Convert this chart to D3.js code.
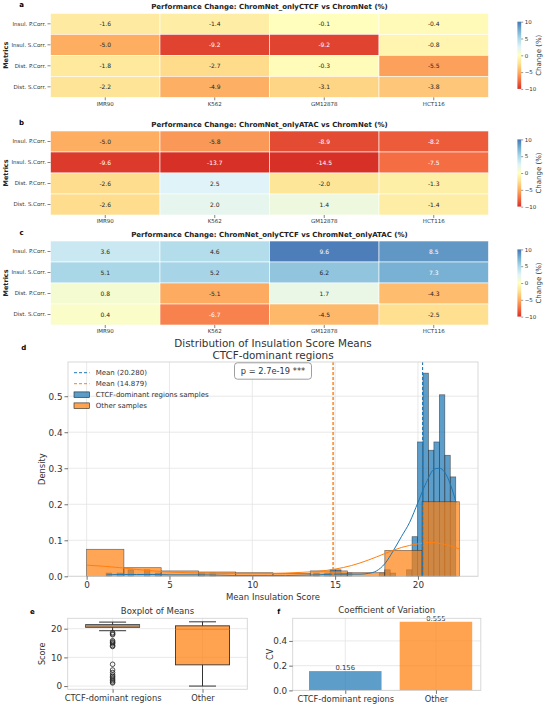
<!DOCTYPE html>
<html>
<head>
<meta charset="utf-8">
<script src="https://cdn.jsdelivr.net/npm/d3@7"></script>
<style>
  body { margin: 0; background: #fff; }
  svg { display: block; font-family: "DejaVu Sans", sans-serif; }
</style>
</head>
<body>
<div id="chart"></div>
<script>
// ---- heatmap data (rows = metrics, cols = cell lines) ----
const cellLines = ["IMR90", "K562", "GM12878", "HCT116"];
const metrics = ["Insul. P.Corr.", "Insul. S.Corr.", "Dist. P.Corr.", "Dist. S.Corr."];
const ctcfVsFull = [[-1.6, -1.4, -0.1, -0.4], [-5.0, -9.2, -9.2, -0.8], [-1.8, -2.7, -0.3, -5.5], [-2.2, -4.9, -3.1, -3.8]];
const atacVsFull = [[-5.0, -5.8, -8.9, -8.2], [-9.6, -13.7, -14.5, -7.5], [-2.6, 2.5, -2.0, -1.3], [-2.6, 2.0, 1.4, -1.4]];
const ctcfVsAtac = [[3.6, 4.6, 9.6, 8.5], [5.1, 5.2, 6.2, 7.3], [0.8, -5.1, 1.7, -4.3], [0.4, -6.7, -4.5, -2.5]];
const colorbarTicks = [-10, -5, 0, 5, 10];

// ---- histogram data ----
const blueBinStart = 1.18, blueBinWidth = 0.3297;
const blueBinIndex = [0, 2, 4, 7, 9, 17, 19, 38, 40, 41, 42, 43, 44, 50, 51, 52, 55, 56, 57, 58, 59, 60, 61, 62, 63];
const blueDensity = [0.009, 0.009, 0.018, 0.018, 0.009, 0.009, 0.009, 0.009, 0.009, 0.018, 0.018, 0.009, 0.009, 0.009, 0.018, 0.009, 0.018, 0.11, 0.373, 0.564, 0.35, 0.373, 0.504, 0.336, 0.276];
const orangeBinEdges = [0, 2.25, 4.5, 6.75, 9, 11.25, 13.5, 15.75, 18, 20.25, 22.5];
const orangeDensity = [0.075, 0.024, 0.015, 0.012, 0.010, 0.008, 0.015, 0.010, 0.072, 0.207];
const blueKdeX = [1.2, 2, 3, 4, 5, 6, 7, 8, 9, 10, 11, 12, 13, 14, 15, 16, 16.5, 17, 17.5, 18, 18.5, 19, 19.5, 20, 20.5, 21, 21.3, 21.6, 22, 22.3];
const blueKdeY = [0.004, 0.005, 0.005, 0.005, 0.004, 0.004, 0.004, 0.003, 0.002, 0.002, 0.002, 0.002, 0.003, 0.004, 0.006, 0.006, 0.006, 0.008, 0.015, 0.035, 0.07, 0.11, 0.15, 0.205, 0.26, 0.298, 0.30, 0.29, 0.25, 0.205];
const orangeKdeX = [0, 1, 2, 3, 4, 5, 6, 7, 8, 9, 10, 11, 12, 13, 14, 15, 16, 17, 18, 19, 20, 20.7, 21.5, 22.5];
const orangeKdeY = [0.031, 0.028, 0.024, 0.019, 0.015, 0.012, 0.010, 0.009, 0.008, 0.008, 0.008, 0.008, 0.009, 0.011, 0.014, 0.020, 0.030, 0.045, 0.063, 0.080, 0.090, 0.094, 0.090, 0.076];
const meanCtcf = 20.280, meanOther = 14.879;
const histXTicks = [0, 5, 10, 15, 20];
const histYTicks = [0, 0.1, 0.2, 0.3, 0.4, 0.5];

// ---- boxplot data ----
const groups = ["CTCF-dominant regions", "Other"];
const boxQ1 = [20.5, 7.4];
const boxMedian = [21.0, 19.8];
const boxQ3 = [21.4, 21.0];
const whiskerLow = [19.3, 0.0];
const whiskerHigh = [22.3, 22.4];
const ctcfOutliers = [18.6, 18.2, 17.9, 15.8, 15.4, 15.1, 14.7, 14.1, 13.8, 7.6, 5.6, 4.7, 3.9, 3.4, 2.9, 2.4, 1.9, 1.4, 1.1];
const boxYTicks = [0, 10, 20];

// ---- coefficient of variation ----
const cvValues = [0.156, 0.555];
const cvYTicks = [0, 0.2, 0.4];

const BLUE = "#1f77b4", ORANGE = "#ff7f0e";
const TXT = "#333";

const svg = d3.select("#chart").append("svg")
    .attr("width", 546)
    .attr("height", 707);

// diverging red-yellow-blue, -10 .. 10
const rdylbu = ["#d73027", "#f46d43", "#fdae61", "#fee090", "#ffffbf", "#e0f3f8", "#abd9e9", "#74add1", "#4575b4"];
const color = d3.scaleLinear()
    .domain(rdylbu.map((c, i) => -10 + i * 2.5))
    .range(rdylbu)
    .clamp(true);

function luminance(c) {
    const rgb = d3.rgb(c);
    const lin = v => { v /= 255; return v <= 0.03928 ? v / 12.92 : Math.pow((v + 0.055) / 1.055, 2.4); };
    return 0.2126 * lin(rgb.r) + 0.7152 * lin(rgb.g) + 0.0722 * lin(rgb.b);
}

// gradient for colorbars
const grad = svg.append("defs").append("linearGradient")
    .attr("id", "cbgrad")
    .attr("x1", 0).attr("y1", 1).attr("x2", 0).attr("y2", 0);
rdylbu.forEach((c, i) => {
    grad.append("stop").attr("offset", i / (rdylbu.length - 1)).attr("stop-color", c);
});

function heatmap(top, letter, title, values) {
    const left = 50.5, right = 488.5, h = 84;
    const g = svg.append("g");
    const x = d3.scaleBand().domain(cellLines).range([left, right]);
    const y = d3.scaleBand().domain(metrics).range([top, top + h]);

    const cells = metrics.flatMap((m, i) => cellLines.map((c, j) => ({ m, c, v: values[i][j] })));

    g.selectAll(".cell")
        .data(cells)
        .enter().append("rect")
        .attr("x", d => x(d.c))
        .attr("y", d => y(d.m))
        .attr("width", x.bandwidth())
        .attr("height", y.bandwidth())
        .attr("fill", d => color(d.v))
        .attr("stroke", "white")
        .attr("stroke-width", 0.6);

    g.selectAll(".annot")
        .data(cells)
        .enter().append("text")
        .attr("x", d => x(d.c) + x.bandwidth() / 2)
        .attr("y", d => y(d.m) + y.bandwidth() / 2)
        .attr("dy", "0.35em")
        .attr("text-anchor", "middle")
        .attr("font-size", "6px")
        .attr("fill", d => luminance(color(d.v)) > 0.408 ? "#262626" : "white")
        .text(d => d.v.toFixed(1));

    // y axis
    const ya = g.append("g")
        .attr("transform", `translate(${left},0)`)
        .call(d3.axisLeft(y).tickSize(3).tickPadding(1.5));
    ya.select(".domain").remove();
    ya.selectAll("line").attr("stroke", TXT).attr("stroke-width", 0.6);
    ya.selectAll("text").attr("font-size", "5.5px").attr("fill", TXT).attr("font-family", "DejaVu Sans");

    // x axis
    const xa = g.append("g")
        .attr("transform", `translate(0,${top + h})`)
        .call(d3.axisBottom(x).tickSize(3).tickPadding(1.5));
    xa.select(".domain").remove();
    xa.selectAll("line").attr("stroke", TXT).attr("stroke-width", 0.6);
    xa.selectAll("text").attr("font-size", "5.5px").attr("fill", TXT).attr("font-family", "DejaVu Sans");

    g.append("text")
        .attr("x", (left + right) / 2)
        .attr("y", top - 4)
        .attr("text-anchor", "middle")
        .attr("font-size", "7px")
        .attr("font-weight", "bold")
        .attr("fill", "#222")
        .text(title);

    g.append("text")
        .attr("x", 21.6)
        .attr("y", top - 6.5)
        .attr("text-anchor", "middle")
        .attr("font-size", "7px")
        .attr("font-weight", "bold")
        .text(letter);

    g.append("text")
        .attr("transform", `translate(7.5,${top + h / 2}) rotate(-90)`)
        .attr("text-anchor", "middle")
        .attr("font-size", "6.5px")
        .attr("font-weight", "bold")
        .attr("fill", "#222")
        .text("Metrics");

    // colorbar
    const cbTop = top + h * 0.1, cbBot = top + h * 0.9;
    g.append("rect")
        .attr("x", 517.4).attr("y", cbTop)
        .attr("width", 3.8).attr("height", cbBot - cbTop)
        .attr("fill", "url(#cbgrad)");
    const cb = d3.scaleLinear().domain([-10, 10]).range([cbBot, cbTop]);
    const ca = g.append("g")
        .attr("transform", `translate(521.2,0)`)
        .call(d3.axisRight(cb).tickValues(colorbarTicks).tickSize(2).tickPadding(1.5)
            .tickFormat(d => d < 0 ? "\u2212" + Math.abs(d) : d));
    ca.select(".domain").remove();
    ca.selectAll("line").attr("stroke", TXT).attr("stroke-width", 0.5);
    ca.selectAll("text").attr("font-size", "5.5px").attr("fill", TXT).attr("font-family", "DejaVu Sans");
    g.append("text")
        .attr("transform", `translate(538.5,${top + h / 2}) rotate(-90)`)
        .attr("text-anchor", "middle")
        .attr("dy", "0.35em")
        .attr("font-size", "7px")
        .attr("fill", TXT)
        .text("Change (%)");
}

heatmap(13.3, "a", "Performance Change: ChromNet_onlyCTCF vs ChromNet (%)", ctcfVsFull);
heatmap(131, "b", "Performance Change: ChromNet_onlyATAC vs ChromNet (%)", atacVsFull);
heatmap(241, "c", "Performance Change: ChromNet_onlyCTCF vs ChromNet_onlyATAC (%)", ctcfVsAtac);

// ---- shared helpers for the lower panels ----
function styleAxis(sel, size) {
    sel.select(".domain").remove();
    sel.selectAll("line").attr("stroke", TXT).attr("stroke-width", 0.7);
    sel.selectAll("text").attr("font-size", size).attr("fill", TXT).attr("font-family", "DejaVu Sans");
}
function frame(g, x0, x1, y0, y1) {
    g.append("rect")
        .attr("x", x0).attr("y", y0)
        .attr("width", x1 - x0).attr("height", y1 - y0)
        .attr("fill", "none")
        .attr("stroke", "#d4d4d4")
        .attr("stroke-width", 0.9);
}
function grid(g, xs, ys, x0, x1, y0, y1) {
    xs.forEach(v => g.append("line").attr("x1", v).attr("x2", v).attr("y1", y0).attr("y2", y1)
        .attr("stroke", "#e3e3e3").attr("stroke-width", 0.8));
    ys.forEach(v => g.append("line").attr("x1", x0).attr("x2", x1).attr("y1", v).attr("y2", v)
        .attr("stroke", "#e3e3e3").attr("stroke-width", 0.8));
}

// ---- panel d: histogram ----
{
    const L = 68, R = 478, T = 362, B = 576.3;
    const g = svg.append("g");
    const x = d3.scaleLinear().domain([-1.125, 23.625]).range([L, R]);
    const y = d3.scaleLinear().domain([0, 0.595]).range([B, T]);

    grid(g, histXTicks.map(x), histYTicks.map(y), L, R, T, B);

    g.selectAll(".bbar")
        .data(blueBinIndex.map((b, i) => ({ x0: blueBinStart + b * blueBinWidth, x1: blueBinStart + (b + 1) * blueBinWidth, d: blueDensity[i] })))
        .enter().append("rect")
        .attr("x", d => x(d.x0))
        .attr("y", d => y(d.d))
        .attr("width", d => x(d.x1) - x(d.x0))
        .attr("height", d => y(0) - y(d.d))
        .attr("fill", BLUE).attr("fill-opacity", 0.72)
        .attr("stroke", "#222").attr("stroke-opacity", 0.6).attr("stroke-width", 0.7);

    g.selectAll(".obar")
        .data(orangeDensity.map((d, i) => ({ x0: orangeBinEdges[i], x1: orangeBinEdges[i + 1], d })))
        .enter().append("rect")
        .attr("x", d => x(d.x0))
        .attr("y", d => y(d.d))
        .attr("width", d => x(d.x1) - x(d.x0))
        .attr("height", d => y(0) - y(d.d))
        .attr("fill", ORANGE).attr("fill-opacity", 0.7)
        .attr("stroke", "#222").attr("stroke-opacity", 0.6).attr("stroke-width", 0.7);

    const line = d3.line().x(d => x(d[0])).y(d => y(d[1])).curve(d3.curveMonotoneX);
    g.append("path")
        .attr("d", line(blueKdeX.map((v, i) => [v, blueKdeY[i]])))
        .attr("fill", "none").attr("stroke", BLUE).attr("stroke-width", 1);
    g.append("path")
        .attr("d", line(orangeKdeX.map((v, i) => [v, orangeKdeY[i]])))
        .attr("fill", "none").attr("stroke", ORANGE).attr("stroke-width", 1);

    g.append("line")
        .attr("x1", x(meanCtcf)).attr("x2", x(meanCtcf)).attr("y1", T).attr("y2", B)
        .attr("stroke", BLUE).attr("stroke-width", 1.1).attr("stroke-dasharray", "3,2");
    g.append("line")
        .attr("x1", x(meanOther)).attr("x2", x(meanOther)).attr("y1", T).attr("y2", B)
        .attr("stroke", ORANGE).attr("stroke-width", 1.8).attr("stroke-opacity", 0.8).attr("stroke-dasharray", "3,2");

    frame(g, L, R, T, B);

    const xa = g.append("g").attr("transform", `translate(0,${B})`)
        .call(d3.axisBottom(x).tickValues(histXTicks).tickSize(3.5).tickPadding(2));
    styleAxis(xa, "8.8px");
    const ya = g.append("g").attr("transform", `translate(${L},0)`)
        .call(d3.axisLeft(y).tickValues(histYTicks).tickSize(3.5).tickPadding(2).tickFormat(d3.format(".1f")));
    styleAxis(ya, "8.8px");

    g.append("text")
        .attr("x", (L + R) / 2).attr("y", 600)
        .attr("text-anchor", "middle").attr("font-size", "8.5px").attr("fill", TXT)
        .text("Mean Insulation Score");
    g.append("text")
        .attr("transform", `translate(44.5,${(T + B) / 2}) rotate(-90)`)
        .attr("text-anchor", "middle").attr("font-size", "8.3px").attr("fill", TXT)
        .text("Density");

    g.append("text")
        .attr("x", (L + R) / 2).attr("y", 347)
        .attr("text-anchor", "middle").attr("font-size", "10.4px").attr("fill", TXT)
        .text("Distribution of Insulation Score Means");
    g.append("text")
        .attr("x", (L + R) / 2).attr("y", 359)
        .attr("text-anchor", "middle").attr("font-size", "10.4px").attr("fill", TXT)
        .text("CTCF-dominant regions");
    g.append("text")
        .attr("x", 23.7).attr("y", 350)
        .attr("text-anchor", "middle").attr("font-size", "7px").attr("font-weight", "bold")
        .text("d");

    // p-value box
    g.append("rect")
        .attr("x", (L + R) / 2 - 38.5).attr("y", 362.8)
        .attr("width", 77).attr("height", 16.4).attr("rx", 3)
        .attr("fill", "white").attr("stroke", "#888").attr("stroke-width", 0.8);
    g.append("text")
        .attr("x", (L + R) / 2).attr("y", 374)
        .attr("text-anchor", "middle").attr("font-size", "8.3px").attr("fill", TXT)
        .text("p = 2.7e-19 ***");

    // legend
    const legendItems = [
        { label: "Mean (" + meanCtcf.toFixed(3) + ")", type: "line", c: BLUE },
        { label: "Mean (" + meanOther.toFixed(3) + ")", type: "line", c: ORANGE },
        { label: "CTCF-dominant regions samples", type: "patch", c: BLUE },
        { label: "Other samples", type: "patch", c: ORANGE }
    ];
    const lg = g.append("g");
    legendItems.forEach((it, i) => {
        const cy = 372.7 + i * 11;
        if (it.type === "line") {
            lg.append("line").attr("x1", 74).attr("x2", 89.5).attr("y1", cy).attr("y2", cy)
                .attr("stroke", it.c).attr("stroke-width", 1).attr("stroke-dasharray", "3,2");
        } else {
            lg.append("rect").attr("x", 74).attr("y", cy - 2.8).attr("width", 15.5).attr("height", 5.6)
                .attr("fill", it.c).attr("fill-opacity", 0.72).attr("stroke", "#222").attr("stroke-width", 0.6);
        }
        lg.append("text").attr("x", 95.7).attr("y", cy).attr("dy", "0.35em")
            .attr("font-size", "7px").attr("fill", TXT).text(it.label);
    });
}

// ---- panel e: boxplot ----
{
    const L = 67.7, R = 247.3, T = 618.3, B = 689.3;
    const g = svg.append("g");
    const x = d3.scalePoint().domain(groups).range([112.6, 202.5]);
    const y = d3.scaleLinear().domain([-1.125, 23.625]).range([B, T]);
    const bw = 54;

    grid(g, groups.map(x), boxYTicks.map(y), L, R, T, B);

    groups.forEach((grp, i) => {
        const cx = x(grp);
        g.append("line").attr("x1", cx).attr("x2", cx).attr("y1", y(whiskerLow[i])).attr("y2", y(boxQ1[i]))
            .attr("stroke", "#333").attr("stroke-width", 1);
        g.append("line").attr("x1", cx).attr("x2", cx).attr("y1", y(boxQ3[i])).attr("y2", y(whiskerHigh[i]))
            .attr("stroke", "#333").attr("stroke-width", 1);
        [whiskerLow[i], whiskerHigh[i]].forEach(v => {
            g.append("line").attr("x1", cx - bw / 4).attr("x2", cx + bw / 4).attr("y1", y(v)).attr("y2", y(v))
                .attr("stroke", "#333").attr("stroke-width", 1);
        });
        g.append("rect")
            .attr("x", cx - bw / 2).attr("y", y(boxQ3[i]))
            .attr("width", bw).attr("height", y(boxQ1[i]) - y(boxQ3[i]))
            .attr("fill", i === 0 ? BLUE : ORANGE).attr("fill-opacity", 0.72)
            .attr("stroke", "#333").attr("stroke-width", 0.9);
        g.append("line").attr("x1", cx - bw / 2).attr("x2", cx + bw / 2)
            .attr("y1", y(boxMedian[i])).attr("y2", y(boxMedian[i]))
            .attr("stroke", ORANGE).attr("stroke-width", 1.2);
    });

    g.selectAll(".outlier")
        .data(ctcfOutliers)
        .enter().append("circle")
        .attr("cx", x(groups[0]))
        .attr("cy", d => y(d))
        .attr("r", 2.3)
        .attr("fill", "none")
        .attr("stroke", "#222")
        .attr("stroke-width", 0.8);

    frame(g, L, R, T, B);

    const xa = g.append("g").attr("transform", `translate(0,${B})`)
        .call(d3.axisBottom(x).tickSize(3.5).tickPadding(2));
    styleAxis(xa, "8.3px");
    const ya = g.append("g").attr("transform", `translate(${L},0)`)
        .call(d3.axisLeft(y).tickValues(boxYTicks).tickSize(3.5).tickPadding(2));
    styleAxis(ya, "8.8px");

    g.append("text")
        .attr("x", (L + R) / 2).attr("y", 614)
        .attr("text-anchor", "middle").attr("font-size", "8.5px").attr("fill", TXT)
        .text("Boxplot of Means");
    g.append("text")
        .attr("transform", `translate(45,${(T + B) / 2}) rotate(-90)`)
        .attr("text-anchor", "middle").attr("font-size", "8px").attr("fill", TXT)
        .text("Score");
    g.append("text")
        .attr("x", 32.3).attr("y", 614)
        .attr("text-anchor", "middle").attr("font-size", "7px").attr("font-weight", "bold")
        .text("e");
}

// ---- panel f: coefficient of variation ----
{
    const L = 292.7, R = 480.8, T = 618.3, B = 690.4;
    const g = svg.append("g");
    const x = d3.scaleLinear().domain([-0.58, 1.495]).range([L, R]);
    const y = d3.scaleLinear().domain([0, 0.583]).range([B, T]);

    grid(g, groups.map((d, i) => x(i)), cvYTicks.map(y), L, R, T, B);

    g.selectAll(".cvbar")
        .data(cvValues)
        .enter().append("rect")
        .attr("x", (d, i) => x(i - 0.4))
        .attr("y", d => y(d))
        .attr("width", x(0.4) - x(-0.4))
        .attr("height", d => y(0) - y(d))
        .attr("fill", (d, i) => i === 0 ? BLUE : ORANGE)
        .attr("fill-opacity", 0.72);

    g.selectAll(".cvlabel")
        .data(cvValues)
        .enter().append("text")
        .attr("x", (d, i) => x(i))
        .attr("y", d => y(d) - 1.2)
        .attr("text-anchor", "middle")
        .attr("font-size", "6.8px")
        .attr("fill", TXT)
        .text(d => d.toFixed(3));

    frame(g, L, R, T, B);

    const xa = g.append("g").attr("transform", `translate(0,${B})`)
        .call(d3.axisBottom(x).tickValues([0, 1]).tickSize(3.5).tickPadding(2).tickFormat(i => groups[i]));
    styleAxis(xa, "8.3px");
    const ya = g.append("g").attr("transform", `translate(${L},0)`)
        .call(d3.axisLeft(y).tickValues(cvYTicks).tickSize(3.5).tickPadding(2).tickFormat(d3.format(".1f")));
    styleAxis(ya, "8.8px");

    g.append("text")
        .attr("x", (L + R) / 2).attr("y", 613)
        .attr("text-anchor", "middle").attr("font-size", "8.5px").attr("fill", TXT)
        .text("Coefficient of Variation");
    g.append("text")
        .attr("transform", `translate(273,${(T + B) / 2}) rotate(-90)`)
        .attr("text-anchor", "middle").attr("font-size", "8px").attr("fill", TXT)
        .text("CV");
    g.append("text")
        .attr("x", 278.7).attr("y", 614)
        .attr("text-anchor", "middle").attr("font-size", "7px").attr("font-weight", "bold")
        .text("f");
}
</script>
</body>
</html>
